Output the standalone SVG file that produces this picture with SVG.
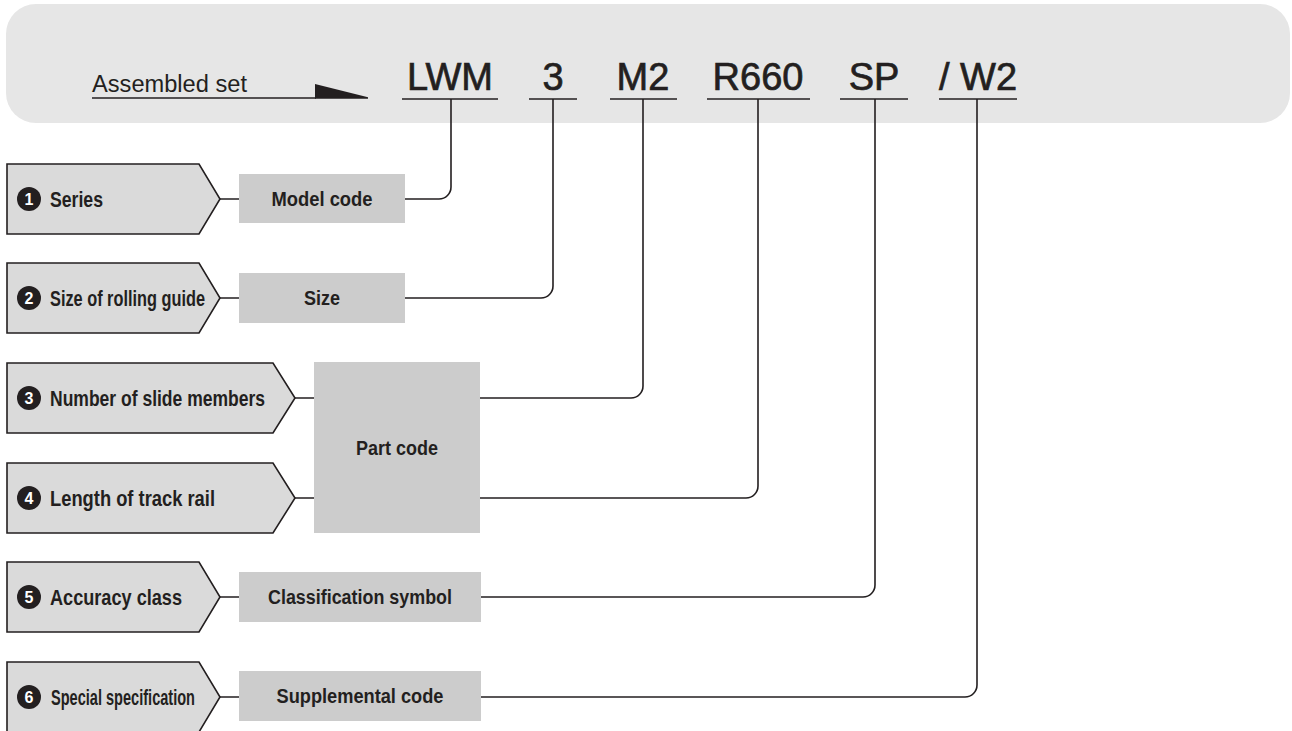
<svg xmlns="http://www.w3.org/2000/svg" width="1292" height="731" viewBox="0 0 1292 731">
<style>
.lbl{font-family:"Liberation Sans",Arial,sans-serif;font-size:20px;font-weight:bold;fill:#231f20}
.plbl{font-size:21.5px}
.box{fill:#cccccc}
.pent{fill:#dadada;stroke:#231f20;stroke-width:1.6}
.num{font-family:"Liberation Sans",Arial,sans-serif;font-size:16px;font-weight:bold;fill:#ffffff;text-anchor:middle}
.code{font-family:"Liberation Sans",Arial,sans-serif;font-size:38px;fill:#231f20;stroke:#231f20;stroke-width:0.7;text-anchor:middle}
.mid{text-anchor:middle}
.ln{fill:none;stroke:#231f20;stroke-width:1.6}
</style>
<rect x="6" y="4" width="1284" height="119" rx="30" ry="30" fill="#e6e6e6"/>
<g id="header">
<text x="92" y="92" style="font-family:'Liberation Sans',Arial,sans-serif;font-size:23px;fill:#231f20" textLength="155" lengthAdjust="spacingAndGlyphs">Assembled set</text>
<line x1="92" y1="98" x2="316" y2="98" class="ln"/>
<polygon points="315,84 368,97.2 368,98.8 315,98.8" fill="#231f20"/>
</g>
<g id="codes">
<text class="code" x="450" y="90">LWM</text>
<text class="code" x="553" y="90">3</text>
<text class="code" x="643" y="90">M2</text>
<text class="code" x="758" y="90">R660</text>
<text class="code" x="874" y="90">SP</text>
<text class="code" x="978" y="90">/ W2</text>
<line class="ln" x1="402" y1="99" x2="498" y2="99"/>
<line class="ln" x1="529" y1="99" x2="577" y2="99"/>
<line class="ln" x1="610" y1="99" x2="677" y2="99"/>
<line class="ln" x1="707" y1="99" x2="810" y2="99"/>
<line class="ln" x1="840" y1="99" x2="908" y2="99"/>
<line class="ln" x1="939" y1="99" x2="1017" y2="99"/>
</g>
<g id="connectors">
<path class="ln" d="M220,199 H239 M405,199 H439 A12,12 0 0 0 451,187 V99"/>
<path class="ln" d="M220,298 H239 M405,298 H541 A12,12 0 0 0 553,286 V99"/>
<path class="ln" d="M295,398 H314 M480,398 H631 A12,12 0 0 0 643,386 V99"/>
<path class="ln" d="M295,498 H314 M480,498 H746 A12,12 0 0 0 758,486 V99"/>
<path class="ln" d="M220,597 H239 M481,597 H863 A12,12 0 0 0 875,585 V99"/>
<path class="ln" d="M220,697 H239 M481,697 H965 A12,12 0 0 0 977,685 V99"/>
</g>
<g id="item1">
<path class="pent" d="M7,164 H199 L220,199 L199,234 H7 Z"/>
<circle cx="29" cy="199" r="12" fill="#231f20"/>
<text class="num" x="29" y="205">1</text>
<text class="lbl plbl" x="50" y="207" textLength="53" lengthAdjust="spacingAndGlyphs">Series</text>
</g>
<g id="item2">
<path class="pent" d="M7,263 H199 L220,298 L199,333 H7 Z"/>
<circle cx="29" cy="298" r="12" fill="#231f20"/>
<text class="num" x="29" y="304">2</text>
<text class="lbl plbl" x="50" y="306" textLength="155" lengthAdjust="spacingAndGlyphs">Size of rolling guide</text>
</g>
<g id="item3">
<path class="pent" d="M7,363 H273 L295,398 L273,433 H7 Z"/>
<circle cx="29" cy="398" r="12" fill="#231f20"/>
<text class="num" x="29" y="404">3</text>
<text class="lbl plbl" x="50" y="406" textLength="215" lengthAdjust="spacingAndGlyphs">Number of slide members</text>
</g>
<g id="item4">
<path class="pent" d="M7,463 H273 L295,498 L273,533 H7 Z"/>
<circle cx="29" cy="498" r="12" fill="#231f20"/>
<text class="num" x="29" y="504">4</text>
<text class="lbl plbl" x="50" y="506" textLength="165" lengthAdjust="spacingAndGlyphs">Length of track rail</text>
</g>
<g id="item5">
<path class="pent" d="M7,562 H199 L220,597 L199,632 H7 Z"/>
<circle cx="29" cy="597" r="12" fill="#231f20"/>
<text class="num" x="29" y="603">5</text>
<text class="lbl plbl" x="50" y="605" textLength="132" lengthAdjust="spacingAndGlyphs">Accuracy class</text>
</g>
<g id="item6">
<path class="pent" d="M7,662 H199 L220,697 L199,732 H7 Z"/>
<circle cx="29" cy="697" r="12" fill="#231f20"/>
<text class="num" x="29" y="703">6</text>
<text class="lbl plbl" x="51" y="705" textLength="144" lengthAdjust="spacingAndGlyphs">Special specification</text>
</g>
<g id="model-code">
<rect class="box" x="239" y="174" width="166" height="49"/>
<text class="lbl mid" x="322" y="206" textLength="101" lengthAdjust="spacingAndGlyphs">Model code</text>
</g>
<g id="size">
<rect class="box" x="239" y="273" width="166" height="50"/>
<text class="lbl mid" x="322" y="305" textLength="36" lengthAdjust="spacingAndGlyphs">Size</text>
</g>
<g id="part-code">
<rect class="box" x="314" y="362" width="166" height="171"/>
<text class="lbl mid" x="397" y="455" textLength="82" lengthAdjust="spacingAndGlyphs">Part code</text>
</g>
<g id="classification-symbol">
<rect class="box" x="239" y="572" width="242" height="50"/>
<text class="lbl mid" x="360" y="604" textLength="184" lengthAdjust="spacingAndGlyphs">Classification symbol</text>
</g>
<g id="supplemental-code">
<rect class="box" x="239" y="671" width="242" height="50"/>
<text class="lbl mid" x="360" y="703" textLength="167" lengthAdjust="spacingAndGlyphs">Supplemental code</text>
</g>
</svg>
